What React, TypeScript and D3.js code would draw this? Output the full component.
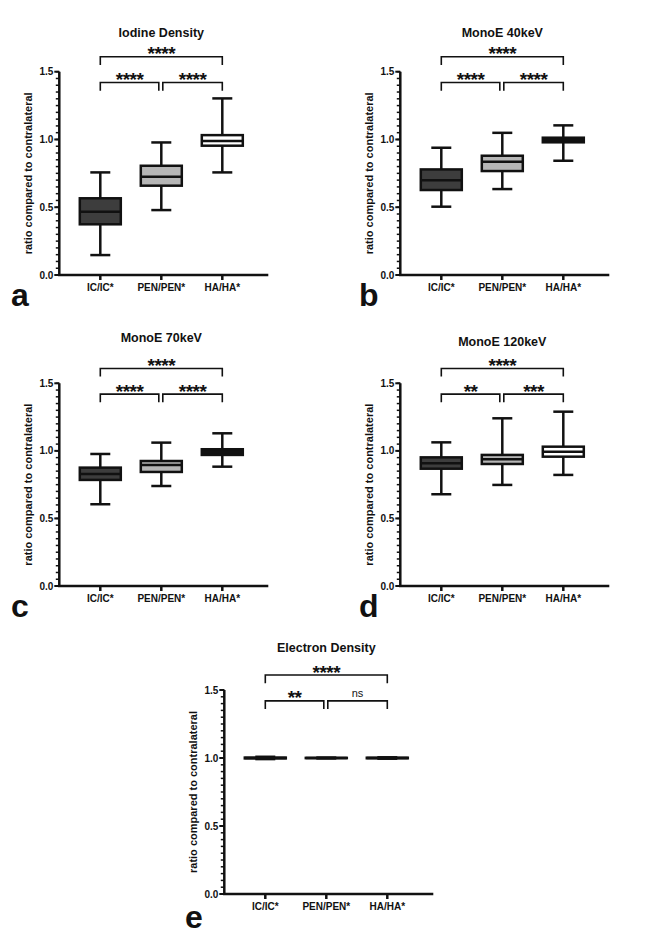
import React from "react";
import * as d3 from "d3";

// ---------- data ----------
const categories = ["IC/IC*", "PEN/PEN*", "HA/HA*"];
const panelTitles = ["Iodine Density", "MonoE 40keV", "MonoE 70keV", "MonoE 120keV", "Electron Density"];
const panelLetters = ["a", "b", "c", "d", "e"];

// [min, q1, median, q3, max] per category
const iodineDensity = [
  [0.147, 0.374, 0.467, 0.566, 0.757],
  [0.479, 0.659, 0.725, 0.806, 0.978],
  [0.757, 0.954, 0.988, 1.032, 1.303],
];
const monoE40 = [
  [0.504, 0.627, 0.700, 0.779, 0.939],
  [0.634, 0.767, 0.836, 0.880, 1.049],
  [0.843, 0.979, 0.995, 1.013, 1.104],
];
const monoE70 = [
  [0.605, 0.785, 0.829, 0.876, 0.977],
  [0.740, 0.844, 0.896, 0.925, 1.061],
  [0.883, 0.970, 0.994, 1.012, 1.130],
];
const monoE120 = [
  [0.679, 0.868, 0.908, 0.952, 1.063],
  [0.748, 0.903, 0.938, 0.970, 1.241],
  [0.822, 0.957, 0.994, 1.031, 1.290],
];
const electronDensity = [
  [0.992, 0.997, 1.0, 1.003, 1.009],
  [0.997, 0.999, 1.0, 1.001, 1.003],
  [0.995, 0.998, 1.0, 1.002, 1.005],
];

// significance: [IC vs PEN, PEN vs HA, IC vs HA]
const iodineSig = ["****", "****", "****"];
const monoE40Sig = ["****", "****", "****"];
const monoE70Sig = ["****", "****", "****"];
const monoE120Sig = ["**", "***", "****"];
const electronSig = ["**", "ns", "****"];

const yTicks = [0, 0.5, 1.0, 1.5];
const yLabel = "ratio compared to contralateral";

// ---------- layout / style ----------
const FONT = "'Liberation Sans', Arial, Helvetica, sans-serif";
const boxFills = ["#3d3d3d", "#b6b6b6", "#ffffff"];

const panels = [
  { stats: iodineDensity, sig: iodineSig, axisX: 59.3, y0: 275, y15: 71.7, titleY: 36.5, letterX: 11, letterY: 306, haFill: "#ffffff" },
  { stats: monoE40, sig: monoE40Sig, axisX: 400.3, y0: 275, y15: 71.7, titleY: 36.5, letterX: 359, letterY: 306, haFill: "#111111" },
  { stats: monoE70, sig: monoE70Sig, axisX: 59.3, y0: 586, y15: 383.3, titleY: 341.5, letterX: 11, letterY: 617, haFill: "#111111" },
  { stats: monoE120, sig: monoE120Sig, axisX: 400.3, y0: 586, y15: 383.3, titleY: 346, letterX: 359, letterY: 617, haFill: "#ffffff" },
  { stats: electronDensity, sig: electronSig, axisX: 224.3, y0: 894, y15: 690, titleY: 652, letterX: 185, letterY: 928, haFill: "#111111" },
];

function Panel({ idx }: { idx: number }) {
  const p = panels[idx];
  const y = d3.scaleLinear().domain([0, 1.5]).range([p.y0, p.y15]);
  const x = d3.scalePoint<string>().domain(categories).range([p.axisX + 41, p.axisX + 163]);
  const axisEnd = p.axisX + 209;
  const boxW = 41;
  const capW = 20;
  const minor = d3.range(0, 1.5001, 0.05);
  const fills = [boxFills[0], boxFills[1], p.haFill];

  const ic = x(categories[0])!;
  const pen = x(categories[1])!;
  const ha = x(categories[2])!;
  const topY = y(1.61);
  const lowY = y(1.42);
  const leg = y(0) - y(0.06);

  const bracket = (x1: number, x2: number, yy: number, label: string, key: string) => (
    <g key={key}>
      <path
        d={`M${x1},${yy + leg}V${yy}H${x2}V${yy + leg}`}
        fill="none"
        stroke="#111"
        strokeWidth={1.6}
      />
      <text
        x={(x1 + x2) / 2}
        y={label === "ns" ? yy - 4 : yy + 3.5}
        textAnchor="middle"
        fontFamily={FONT}
        fontWeight={label === "ns" ? "normal" : "bold"}
        fontSize={label === "ns" ? 11 : 19}
        letterSpacing={label === "ns" ? 0 : -0.5}
        fill="#111"
      >
        {label}
      </text>
    </g>
  );

  return (
    <g>
      <text x={pen} y={p.titleY} textAnchor="middle" fontFamily={FONT} fontWeight="bold" fontSize={12.5} fill="#111">
        {panelTitles[idx]}
      </text>

      {/* brackets */}
      {bracket(ic, ha, topY, p.sig[2], "top")}
      {bracket(ic, pen - 2.5, lowY, p.sig[0], "l")}
      {bracket(pen + 1.5, ha, lowY, p.sig[1], "r")}

      {/* y axis minor ticks */}
      {minor.map((v, i) => (
        <line key={"m" + i} x1={p.axisX - 3.5} x2={p.axisX} y1={y(v)} y2={y(v)} stroke="#111" strokeWidth={1.5} />
      ))}
      {yTicks.map((v) => (
        <g key={"t" + v}>
          <line x1={p.axisX - 5} x2={p.axisX} y1={y(v)} y2={y(v)} stroke="#111" strokeWidth={2} />
          <text
            x={p.axisX - 6}
            y={y(v) + 3.5}
            textAnchor="end"
            fontFamily={FONT}
            fontWeight="bold"
            fontSize={10}
            fill="#111"
          >
            {v.toFixed(1)}
          </text>
        </g>
      ))}
      {/* axis lines */}
      <path
        d={`M${p.axisX},${y(1.5)}V${y(0)}H${axisEnd}`}
        fill="none"
        stroke="#111"
        strokeWidth={2.5}
      />
      {categories.map((c) => (
        <g key={"x" + c}>
          <line x1={x(c)} x2={x(c)} y1={y(0)} y2={y(0) + 5} stroke="#111" strokeWidth={2.5} />
          <text x={x(c)} y={y(0) + 16} textAnchor="middle" fontFamily={FONT} fontWeight="bold" fontSize={10} fill="#111">
            {c}
          </text>
        </g>
      ))}

      {/* y label */}
      <text
        transform={`translate(${p.axisX - 30},${(y(0) + y(1.5)) / 2}) rotate(-90)`}
        textAnchor="middle"
        dominantBaseline="middle"
        fontFamily={FONT}
        fontWeight="bold"
        fontSize={11}
        fill="#111"
      >
        {yLabel}
      </text>

      {/* boxes */}
      {p.stats.map((s, i) => {
        const cx = x(categories[i])!;
        const [mn, q1, md, q3, mx] = s;
        return (
          <g key={"b" + i} stroke="#111" strokeWidth={2.5}>
            <line x1={cx} x2={cx} y1={y(mx)} y2={y(q3)} />
            <line x1={cx} x2={cx} y1={y(q1)} y2={y(mn)} />
            <line x1={cx - capW / 2} x2={cx + capW / 2} y1={y(mx)} y2={y(mx)} />
            <line x1={cx - capW / 2} x2={cx + capW / 2} y1={y(mn)} y2={y(mn)} />
            <rect x={cx - boxW / 2} y={y(q3)} width={boxW} height={y(q1) - y(q3)} fill={fills[i]} />
            <line x1={cx - boxW / 2} x2={cx + boxW / 2} y1={y(md)} y2={y(md)} />
          </g>
        );
      })}

      <text x={p.letterX} y={p.letterY} fontFamily={FONT} fontWeight="bold" fontSize={32} fill="#111">
        {panelLetters[idx]}
      </text>
    </g>
  );
}

export default function App() {
  return (
    <svg
      width={646}
      height={944}
      viewBox="0 0 646 944"
      style={{ position: "absolute", left: 0, top: 0, background: "#fff" }}
    >
      <rect width={646} height={944} fill="#fff" />
      {panels.map((_, i) => (
        <Panel key={i} idx={i} />
      ))}
    </svg>
  );
}
